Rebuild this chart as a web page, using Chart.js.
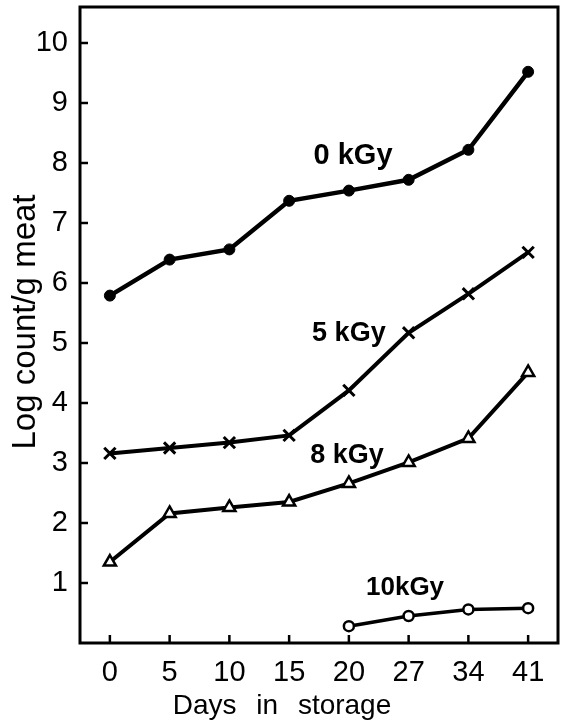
<!DOCTYPE html>
<html>
<head>
<meta charset="utf-8">
<title>Log count/g meat</title>
<script src="https://cdn.jsdelivr.net/npm/chart.js@4.4.0/dist/chart.umd.min.js"></script>
<style>
    html, body { margin: 0; padding: 0; background: #fff; }
    #chart-box { width: 562px; height: 723px; }
</style>
</head>
<body>
<div id="chart-box"><canvas id="storage-chart" width="562" height="723"></canvas></div>
<script>
// Данные графика
const days = ['0', '5', '10', '15', '20', '27', '34', '41'];
const yTicks = [1, 2, 3, 4, 5, 6, 7, 8, 9, 10];
const dose0 = [5.79, 6.39, 6.56, 7.37, 7.54, 7.72, 8.22, 9.52];
const dose5 = [3.16, 3.25, 3.34, 3.46, 4.21, 5.17, 5.82, 6.51];
const dose8 = [1.35, 2.16, 2.26, 2.35, 2.66, 3.01, 3.41, 4.51];
const dose10 = [null, null, null, null, 0.28, 0.45, 0.56, 0.58];
const seriesNames = ['0 kGy', '5 kGy', '8 kGy', '10kGy'];
const xTitle = 'Days in storage';
const yTitle = 'Log count/g meat';

// Подписи серий: точка привязки (индекс дня, значение по оси Y)
const nameAnchors = [[4.07, 7.99], [4.0, 5.04], [3.97, 3.0], [4.94, 0.8]];
const nameFonts = ['bold 29px "Liberation Sans"', 'bold 27px "Liberation Sans"', 'bold 27px "Liberation Sans"', 'bold 26px "Liberation Sans"'];

const FONT = '"Liberation Sans", Arial, sans-serif';

// Рамка, внутренние засечки, подписи серий и осей
const framePlugin = {
    id: 'frame',
    afterDraw(chart) {
        const { ctx, chartArea: a, scales } = chart;
        ctx.save();
        ctx.strokeStyle = '#000';
        ctx.fillStyle = '#000';
        ctx.lineWidth = 3;
        ctx.strokeRect(a.left, a.top, a.right - a.left, a.bottom - a.top);

        ctx.lineWidth = 2.5;
        yTicks.forEach(v => {
            const y = scales.y.getPixelForValue(v);
            ctx.beginPath();
            ctx.moveTo(a.left, y);
            ctx.lineTo(a.left + 8, y);
            ctx.stroke();
        });
        days.forEach((d, i) => {
            const x = scales.x.getPixelForValue(i);
            ctx.beginPath();
            ctx.moveTo(x, a.bottom);
            ctx.lineTo(x, a.bottom - 8);
            ctx.stroke();
        });

        ctx.textAlign = 'center';
        ctx.textBaseline = 'alphabetic';
        seriesNames.forEach((name, i) => {
            ctx.font = nameFonts[i];
            const x = scales.x.getPixelForValue(nameAnchors[i][0]);
            const y = scales.y.getPixelForValue(nameAnchors[i][1]);
            ctx.fillText(name, x, y);
        });

        // Подпись оси X
        ctx.font = '28px ' + FONT;
        if ('wordSpacing' in ctx) ctx.wordSpacing = '12px';
        ctx.fillText(xTitle, 282, 714);
        if ('wordSpacing' in ctx) ctx.wordSpacing = '0px';

        // Подпись оси Y
        ctx.translate(35, 322);
        ctx.rotate(-Math.PI / 2);
        ctx.font = '33px ' + FONT;
        ctx.fillText(yTitle, 0, 0);
        ctx.restore();
    }
};

function initChart() {
    const ctx = document.getElementById('storage-chart').getContext('2d');
    new Chart(ctx, {
        type: 'line',
        data: {
            labels: days,
            datasets: [
                {
                    label: seriesNames[0],
                    data: dose0,
                    borderColor: '#000',
                    backgroundColor: '#000',
                    borderWidth: 4.5,
                    pointStyle: 'circle',
                    pointRadius: 5.5,
                    pointBorderWidth: 1
                },
                {
                    label: seriesNames[1],
                    data: dose5,
                    borderColor: '#000',
                    backgroundColor: '#000',
                    borderWidth: 4,
                    pointStyle: 'crossRot',
                    pointRadius: 8,
                    pointBorderWidth: 3
                },
                {
                    label: seriesNames[2],
                    data: dose8,
                    borderColor: '#000',
                    backgroundColor: '#fff',
                    borderWidth: 4,
                    pointStyle: 'triangle',
                    pointRadius: 7,
                    pointBorderWidth: 2.5
                },
                {
                    label: seriesNames[3],
                    data: dose10,
                    borderColor: '#000',
                    backgroundColor: '#fff',
                    borderWidth: 3.5,
                    pointStyle: 'circle',
                    pointRadius: 5,
                    pointBorderWidth: 2.5
                }
            ]
        },
        options: {
            responsive: false,
            devicePixelRatio: 1,
            animation: false,
            layout: { autoPadding: false, padding: { top: 7, right: 4, left: 0, bottom: 0 } },
            elements: { line: { tension: 0 } },
            plugins: {
                legend: { display: false },
                tooltip: { enabled: false }
            },
            scales: {
                x: {
                    type: 'category',
                    offset: true,
                    grid: { display: false, drawTicks: false },
                    border: { display: false },
                    ticks: {
                        color: '#000',
                        font: { family: FONT, size: 29 },
                        padding: 13,
                        maxRotation: 0
                    },
                    afterFit: scale => {
                        scale.height = 80;
                        scale.paddingLeft = 0;
                        scale.paddingRight = 0;
                    }
                },
                y: {
                    min: 0,
                    max: 10.6,
                    grid: { display: false, drawTicks: false },
                    border: { display: false },
                    ticks: {
                        stepSize: 1,
                        color: '#000',
                        font: { family: FONT, size: 29 },
                        padding: 12,
                        callback: function(value) {
                            return yTicks.includes(value) ? String(value) : '';
                        }
                    },
                    afterFit: scale => {
                        scale.width = 80;
                        scale.paddingTop = 0;
                        scale.paddingBottom = 0;
                    }
                }
            }
        },
        plugins: [framePlugin]
    });
}

document.addEventListener('DOMContentLoaded', initChart);
</script>
</body>
</html>
